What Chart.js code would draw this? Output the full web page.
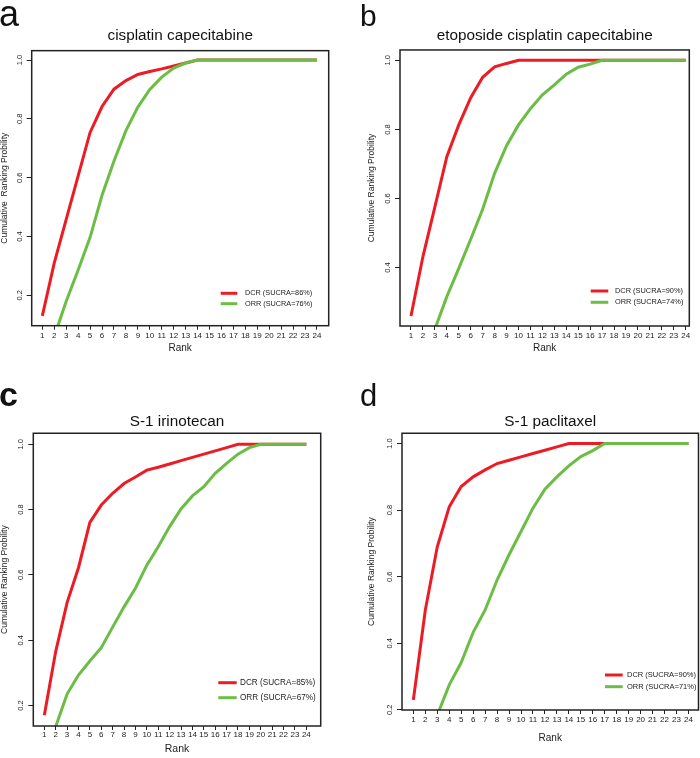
<!DOCTYPE html>
<html>
<head>
<meta charset="utf-8">
<script src="https://cdn.jsdelivr.net/npm/chart.js@4.4.1/dist/chart.umd.min.js"></script>
<style>
  html, body { margin: 0; padding: 0; background: #fff; }
  #page { position: relative; width: 700px; height: 758px; overflow: hidden; font-family: "Liberation Sans", Arial, sans-serif; }
  canvas { position: absolute; }
  .tag { position: absolute; line-height: 1; color: #111; }
</style>
</head>
<body>
<div id="page">
  <canvas id="chartA" width="350" height="380" style="left:0;top:0"></canvas>
  <canvas id="chartB" width="350" height="380" style="left:350px;top:0"></canvas>
  <canvas id="chartC" width="350" height="378" style="left:0;top:380px"></canvas>
  <canvas id="chartD" width="350" height="378" style="left:350px;top:380px"></canvas>
  <div class="tag" style="left:-1px;top:-4px;font-size:36px">a</div>
  <div class="tag" style="left:360px;top:1px;font-size:30px">b</div>
  <div class="tag" style="left:-1px;top:377px;font-size:34px;font-weight:bold">c</div>
  <div class="tag" style="left:360px;top:380px;font-size:31px">d</div>
</div>
<script>
// ranks on the x axis
const ranks = [1, 2, 3, 4, 5, 6, 7, 8, 9, 10, 11, 12, 13, 14, 15, 16, 17, 18, 19, 20, 21, 22, 23, 24];

// panel titles
const titleA = "cisplatin capecitabine";
const titleB = "etoposide cisplatin capecitabine";
const titleC = "S-1 irinotecan";
const titleD = "S-1 paclitaxel";

// cumulative ranking probabilities, rank 1..24
const dcrA = [0.13, 0.31, 0.458, 0.606, 0.754, 0.842, 0.901, 0.93, 0.951, 0.961, 0.97, 0.98, 0.99, 1, 1, 1, 1, 1, 1, 1, 1, 1, 1, 1];
const orrA = [0.01, 0.06, 0.18, 0.286, 0.397, 0.54, 0.657, 0.76, 0.84, 0.9, 0.942, 0.973, 0.99, 1, 1, 1, 1, 1, 1, 1, 1, 1, 1, 1];

const dcrB = [0.26, 0.432, 0.576, 0.721, 0.813, 0.892, 0.951, 0.981, 0.991, 1, 1, 1, 1, 1, 1, 1, 1, 1, 1, 1, 1, 1, 1, 1];
const orrB = [0.04, 0.13, 0.222, 0.316, 0.398, 0.482, 0.569, 0.673, 0.753, 0.813, 0.86, 0.9, 0.929, 0.96, 0.98, 0.989, 1, 1, 1, 1, 1, 1, 1, 1];

const dcrC = [0.17, 0.365, 0.515, 0.622, 0.761, 0.814, 0.85, 0.88, 0.9, 0.921, 0.93, 0.94, 0.95, 0.96, 0.97, 0.98, 0.99, 1, 1, 1, 1, 1, 1, 1];
const orrC = [0.04, 0.135, 0.235, 0.293, 0.336, 0.377, 0.44, 0.502, 0.559, 0.63, 0.686, 0.748, 0.802, 0.842, 0.87, 0.911, 0.942, 0.97, 0.99, 1, 1, 1, 1, 1];

const dcrD = [0.23, 0.5, 0.69, 0.81, 0.871, 0.9, 0.921, 0.94, 0.95, 0.96, 0.97, 0.98, 0.99, 1, 1, 1, 1, 1, 1, 1, 1, 1, 1, 1];
const orrD = [0.03, 0.1, 0.184, 0.275, 0.342, 0.433, 0.5, 0.59, 0.666, 0.736, 0.806, 0.863, 0.9, 0.933, 0.961, 0.979, 1, 1, 1, 1, 1, 1, 1, 1];

// legend labels
const legendA = ["DCR (SUCRA=86%)", "ORR (SUCRA=76%)"];
const legendB = ["DCR (SUCRA=90%)", "ORR (SUCRA=74%)"];
const legendC = ["DCR (SUCRA=85%)", "ORR (SUCRA=67%)"];
const legendD = ["DCR (SUCRA=90%)", "ORR (SUCRA=71%)"];

const yTitleA = "Cumulative  Ranking Probility";
const yTitle = "Cumulative Ranking Probility";

const RED = "#ED1C24";
const GREEN = "#6CBD45";
const FONT = "'Liberation Sans', Arial, sans-serif";

Chart.defaults.font.family = FONT;
Chart.defaults.color = "#222";

// box around the plot region, like R's bty="o"
const frameBox = {
    id: "frameBox",
    afterDatasetsDraw(chart) {
        const a = chart.chartArea, ctx = chart.ctx;
        ctx.save();
        ctx.strokeStyle = "#222";
        ctx.lineWidth = 1.5;
        ctx.strokeRect(a.left, a.top, a.right - a.left, a.bottom - a.top);
        ctx.restore();
    }
};

// small legend inside the plot, bottom right
const rankLegend = {
    id: "rankLegend",
    afterDraw(chart, args, opts) {
        const a = chart.chartArea, ctx = chart.ctx;
        ctx.save();
        ctx.font = opts.size + "px " + FONT;
        ctx.textBaseline = "middle";
        chart.data.datasets.forEach((ds, i) => {
            const y = a.bottom - opts.rows[i];
            ctx.strokeStyle = ds.borderColor;
            ctx.lineWidth = 3;
            ctx.beginPath();
            ctx.moveTo(a.right - opts.line[0], y);
            ctx.lineTo(a.right - opts.line[1], y);
            ctx.stroke();
            ctx.fillStyle = "#222";
            ctx.fillText(ds.label, a.right - opts.text, y);
        });
        ctx.restore();
    }
};

function makeChart(id, p) {
    const ctx = document.getElementById(id).getContext("2d");
    const tickGrid = len => ({ drawOnChartArea: false, drawTicks: true, tickLength: len, color: "#222", lineWidth: 1 });
    return new Chart(ctx, {
        type: "line",
        data: {
            datasets: [
                {
                    label: p.legend[0],
                    data: ranks.map((r, i) => ({ x: r, y: p.dcr[i] })),
                    borderColor: RED,
                    borderWidth: 3,
                    pointRadius: 0,
                    tension: 0,
                    clip: 0,
                    order: 1
                },
                {
                    label: p.legend[1],
                    data: ranks.map((r, i) => ({ x: r, y: p.orr[i] })),
                    borderColor: GREEN,
                    borderWidth: 3,
                    pointRadius: 0,
                    tension: 0,
                    clip: 0,
                    order: 0
                }
            ]
        },
        options: {
            responsive: false,
            animation: false,
            devicePixelRatio: 1,
            layout: { padding: { left: 0, top: 0, right: p.padRight, bottom: p.padBottom } },
            plugins: {
                legend: { display: false },
                tooltip: { enabled: false },
                title: {
                    display: true,
                    text: p.title,
                    fullSize: false,
                    color: "#111",
                    font: { size: 15.3, weight: "normal" },
                    padding: { top: p.titleTop, bottom: p.titleBottom }
                },
                rankLegend: p.legendPos
            },
            scales: {
                x: {
                    type: "linear",
                    min: p.xMin,
                    max: p.xMax,
                    afterFit: s => { s.height = p.xAxisH; },
                    afterBuildTicks: s => { s.ticks = s.ticks.filter(t => t.value >= 1 && t.value <= 24); },
                    grid: tickGrid(4),
                    border: { display: false },
                    ticks: {
                        stepSize: 1,
                        includeBounds: false,
                        autoSkip: false,
                        maxRotation: 0,
                        minRotation: 0,
                        padding: p.xTickPad,
                        color: "#222",
                        font: { size: 8 }
                    },
                    title: { display: true, text: "Rank", color: "#222", font: { size: p.rankSize }, padding: 0 }
                },
                y: {
                    type: "linear",
                    min: p.yMin,
                    max: p.yMax,
                    afterFit: s => { s.width = p.yAxisW; },
                    grid: tickGrid(5),
                    border: { display: false },
                    ticks: {
                        stepSize: 0.2,
                        includeBounds: false,
                        minRotation: 90,
                        maxRotation: 90,
                        crossAlign: "center",
                        padding: 2,
                        color: "#222",
                        font: { size: 7.5 },
                        callback: v => v.toFixed(1)
                    },
                    title: { display: true, text: p.yTitle, color: "#222", font: { size: 8.5 }, padding: { top: p.yTitlePad, bottom: 0 } }
                }
            }
        },
        plugins: [frameBox, rankLegend]
    });
}

makeChart("chartA", {
    title: titleA, dcr: dcrA, orr: orrA, legend: legendA, yTitle: yTitleA,
    xMin: 0.11, xMax: 24.98, yMin: 0.0965, yMax: 1.032,
    padRight: 21.3, padBottom: 25.5, titleTop: 26.2, titleBottom: 6.1,
    xAxisH: 28.8, yAxisW: 31.7, yTitlePad: 0, xTickPad: 1, rankSize: 10,
    legendPos: { line: [108, 91.4], text: 83.7, rows: [32.4, 22.0], size: 7.3 }
});

makeChart("chartB", {
    title: titleB, dcr: dcrB, orr: orrB, legend: legendB, yTitle: yTitle,
    xMin: 0.08, xMax: 24.3, yMin: 0.231, yMax: 1.03,
    padRight: 10.7, padBottom: 25.7, titleTop: 26.2, titleBottom: 5.4,
    xAxisH: 28.3, yAxisW: 50, yTitlePad: 16.6, xTickPad: 0.5, rankSize: 10,
    legendPos: { line: [98.6, 81], text: 74.3, rows: [35, 23.7], size: 7.4 }
});

makeChart("chartC", {
    title: titleC, dcr: dcrC, orr: orrC, legend: legendC, yTitle: yTitle,
    xMin: 0.034, xMax: 25.26, yMin: 0.137, yMax: 1.034,
    padRight: 29.3, padBottom: 2.4, titleTop: 32.2, titleBottom: 2.7,
    xAxisH: 29.6, yAxisW: 33.3, yTitlePad: 0, xTickPad: 0, rankSize: 10.5,
    legendPos: { line: [102.4, 84], text: 80.7, rows: [43.3, 28.3], size: 8.2 }
});

makeChart("chartD", {
    title: titleD, dcr: dcrD, orr: orrD, legend: legendD, yTitle: yTitle,
    xMin: 0.05, xMax: 24.84, yMin: 0.1995, yMax: 1.031,
    padRight: 1.5, padBottom: 13.7, titleTop: 32.2, titleBottom: 2.7,
    xAxisH: 34.3, yAxisW: 52, yTitlePad: 16.6, xTickPad: 1, rankSize: 10,
    legendPos: { line: [93.5, 75.8], text: 71.5, rows: [35, 23.3], size: 7.5 }
});
</script>
</body>
</html>
